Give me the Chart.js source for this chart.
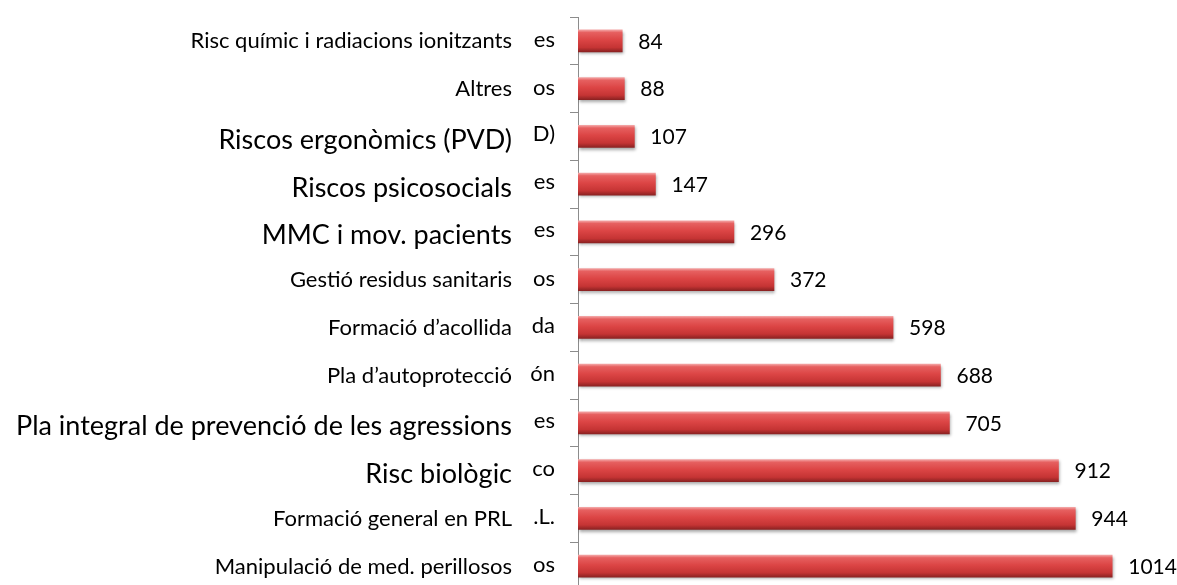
<!DOCTYPE html>
<html>
<head>
<meta charset="utf-8">
<script src="https://cdn.jsdelivr.net/npm/chart.js@4"></script>
<style>
  html, body { margin: 0; padding: 0; background: #fff; overflow: hidden; }
  #wrap { width: 1177px; height: 592px; }
</style>
</head>
<body>
<div id="wrap"><canvas id="riskChart" width="1177" height="592"></canvas></div>
<script>
const categories = [
    'Risc químic i radiacions ionitzants',
    'Altres',
    'Riscos ergonòmics (PVD)',
    'Riscos psicosocials',
    'MMC i mov. pacients',
    'Gestió residus sanitaris',
    'Formació d\u2019acollida',
    'Pla d\u2019autoprotecció',
    'Pla integral de prevenció de les agressions',
    'Risc biològic',
    'Formació general en PRL',
    'Manipulació de med. perillosos'
];
const values = [84, 88, 107, 147, 296, 372, 598, 688, 705, 912, 944, 1014];
// leftover ends of the old labels, visible next to the axis
const tails = ['es', 'os', 'D)', 'es', 'es', 'os', 'da', 'ón', 'es', 'co', '.L.', 'os'];
// labels that were typed in a bigger size
const bigOnes = [
    'Riscos ergonòmics (PVD)',
    'Riscos psicosocials',
    'MMC i mov. pacients',
    'Pla integral de prevenció de les agressions',
    'Risc biològic'
];

document.addEventListener('DOMContentLoaded', () => {
    const FONT = 'Lato, "Open Sans", sans-serif';
    const BAR_H = 22;

    const labelPlugin = {
        id: 'labelPlugin',
        beforeDatasetsDraw(chart) {
            chart.ctx.save();
            chart.ctx.shadowColor = 'rgba(0,0,0,0.35)';
            chart.ctx.shadowBlur = 3;
            chart.ctx.shadowOffsetY = 2;
            chart.ctx.shadowOffsetX = 1;
        },
        afterDatasetsDraw(chart) {
            const ctx = chart.ctx;
            ctx.restore();
            const meta = chart.getDatasetMeta(0);
            const yScale = chart.scales.y;
            ctx.save();
            ctx.fillStyle = '#000';
            meta.data.forEach((bar, i) => {
                // value next to the bar
                ctx.textBaseline = 'middle';
                ctx.font = '21px ' + FONT;
                ctx.textAlign = 'left';
                ctx.fillText(String(values[i]), bar.x + 16, bar.y + 1);

                const y = yScale.getPixelForValue(i);
                ctx.textBaseline = 'alphabetic';
                // category label
                const big = bigOnes.includes(categories[i]);
                ctx.textAlign = 'right';
                ctx.font = (big ? '27px ' : '22px ') + FONT;
                ctx.fillText(categories[i], 512, y + (big ? 12.5 : 7.5));
                // clipped tail
                ctx.font = '22px ' + FONT;
                ctx.fillText(tails[i], 555, y + (big ? 5 : 6));
            });
            ctx.restore();
        }
    };

    const ctx = document.getElementById('riskChart').getContext('2d');
    const riskChart = new Chart(ctx, {
        type: 'bar',
        data: {
            labels: categories,
            datasets: [{
                data: values,
                barThickness: BAR_H,
                borderWidth: 0,
                backgroundColor: function(context) {
                    const chart = context.chart;
                    const yScale = chart.scales.y;
                    if (!yScale || context.dataIndex === undefined) return '#d94040';
                    const yc = yScale.getPixelForValue(context.dataIndex);
                    if (!isFinite(yc)) return '#d94040';
                    const g = chart.ctx.createLinearGradient(0, yc - BAR_H / 2, 0, yc + BAR_H / 2);
                    g.addColorStop(0, '#f3a3a3');
                    g.addColorStop(0.12, '#e66060');
                    g.addColorStop(0.45, '#dc4545');
                    g.addColorStop(0.8, '#c53434');
                    g.addColorStop(1, '#8c2222');
                    return g;
                }
            }]
        },
        options: {
            indexAxis: 'y',
            responsive: false,
            animation: false,
            layout: {
                padding: { top: 17, bottom: 2, left: 0, right: 0 }
            },
            scales: {
                x: {
                    display: false,
                    min: 0,
                    max: 1137
                },
                y: {
                    afterFit: function(scale) {
                        scale.width = 578;
                    },
                    ticks: { display: false },
                    grid: {
                        offset: true,
                        drawOnChartArea: false,
                        drawTicks: true,
                        tickLength: 8,
                        color: '#8c8c8c'
                    },
                    border: { color: '#8c8c8c', width: 1 }
                }
            },
            plugins: {
                legend: { display: false },
                tooltip: { enabled: false }
            }
        },
        plugins: [labelPlugin]
    });
});
</script>
</body>
</html>
